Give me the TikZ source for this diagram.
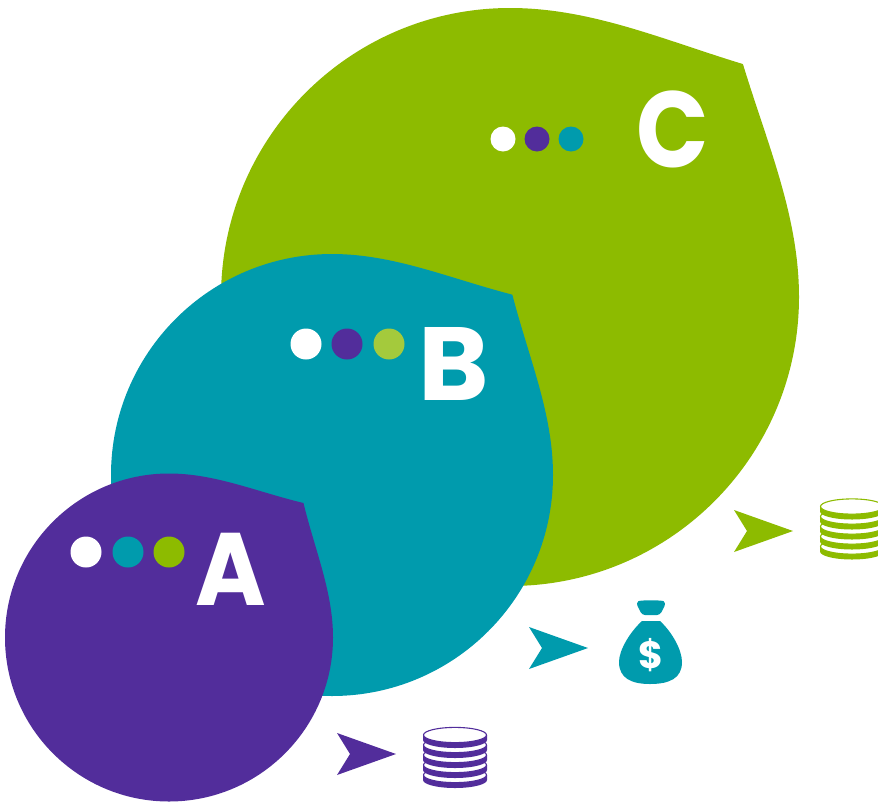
\documentclass[tikz,border=0pt]{standalone}
\usepackage{fontspec}
\setmainfont{Poppins}
\definecolor{vert}{HTML}{8DBB00}
\definecolor{bleu}{HTML}{009BAD}
\definecolor{violet}{HTML}{522D9B}
\definecolor{lime}{HTML}{A4CA3C}
\tikzset{
  dot/.style={circle,inner sep=0pt,minimum size=#1},
  letter/.style={text=white,font=\fontsize{#1}{#1}\selectfont\bfseries,inner sep=0pt},
}
%% center x, center y, radius, corner, colour
\newcommand{\bulle}[5]{\fill[#5,shift={(#1,#2)},scale=#3] (0,-1) .. controls (.28,-1) and (.53,-.89) .. (#4,-#4) .. controls (.89,-.53) and (1,-.28) .. (1,0) .. controls (1,.552) and (.552,1) .. (0,1) .. controls (-.552,1) and (-1,.552) .. (-1,0) .. controls (-1,-.552) and (-.552,-1) .. (0,-1) -- cycle;}
%% tip x, tip y, colour
\newcommand{\fleche}[3]{\fill[#3,shift={(#1,#2)}] (0,0) -- (-59,-21) -- (-46,0) -- (-59,21) -- cycle;}
%% center x, top y, half width, colour
\newcommand{\pile}[4]{\begin{scope}[shift={(#1,#2)}]
  \foreach \k in {40,30,20,10,0}{
    \fill[#4] (-#3,8+\k) -- (-#3,13+\k) arc[x radius=#3,y radius=8,start angle=180,end angle=0] -- (#3,8+\k) -- cycle;
    \filldraw[#4,fill=white,line width=1.1pt] (0,8+\k) ellipse[x radius=#3-.5,y radius=7.6];
  }
\end{scope}}
\begin{document}
\begin{tikzpicture}[x=1pt,y=-1pt]%
\useasboundingbox (0,0) rectangle (878,801);%%
\clip (0,0) rectangle (878,801);%%
%%BULLES
\bulle{510}{297}{289}{.806}{vert}%%
\bulle{332}{475}{221}{.816}{bleu}%%
\bulle{169}{637.5}{164}{.82}{violet}%%
%%LETTRES
\node[letter=108,xscale=.88,transform shape] (c) at (672.5,129.5) {C}; %%
\node[letter=104,xscale=1.03,transform shape] (b) at (453.5,364) {B}; %%
\node[letter=103,xscale=.93,transform shape] (a) at (231,569) {A}; %%
%%POINTS
\node[dot=25,fill=white] (c1) at (503,139) {}; %%
\node[dot=25,fill=violet] (c2) at (537,139) {}; %%
\node[dot=25,fill=bleu] (c3) at (571,139) {}; %%
\node[dot=31,fill=white] (b1) at (306,344) {}; %%
\node[dot=31,fill=violet] (b2) at (347,344) {}; %%
\node[dot=31,fill=lime] (b3) at (389,344) {}; %%
\node[dot=31,fill=white] (a1) at (86,552) {}; %%
\node[dot=31,fill=bleu] (a2) at (128,552) {}; %%
\node[dot=31,fill=vert] (a3) at (169,552) {}; %%
%%FLECHES
\fleche{793}{531}{vert}%%
\fleche{588}{648}{bleu}%%
\fleche{396}{754}{violet}%%
%%PIECES
\pile{852}{498.5}{32}{vert}%%
\pile{455}{727}{32}{violet}%%
%%SAC
\fill[bleu,rounded corners=3pt] (636,603) .. controls (640,600) and (662,600) .. (666,603) -- (660,615) -- (642,615) -- cycle;%%
\fill[bleu] (642,621) -- (660,621) .. controls (672,632) and (682,650) .. (682,662) .. controls (682,678) and (670,684) .. (650,684) .. controls (631,684) and (619,678) .. (619,662) .. controls (619,650) and (630,632) .. (642,621) -- cycle;%%
\node[letter=38] (s) at (650.5,655) {\$}; %%
\end{tikzpicture}
\end{document}
